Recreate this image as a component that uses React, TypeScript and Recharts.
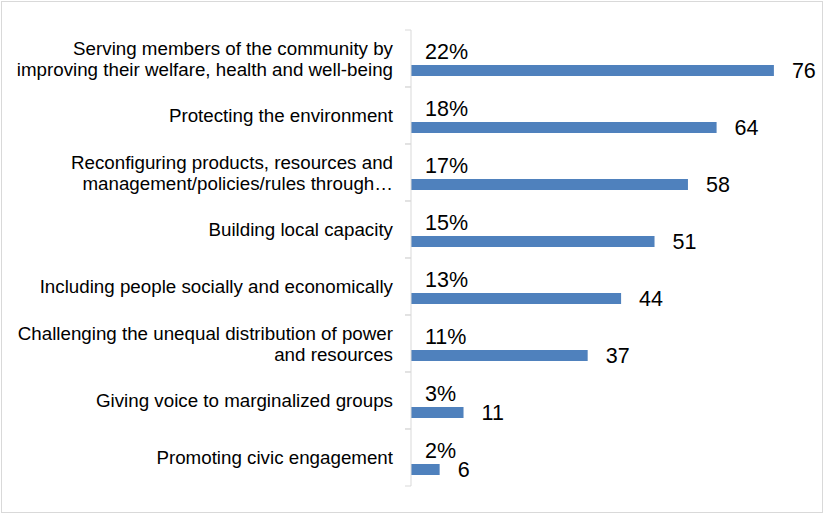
import React from "react";
import { BarChart, Bar, XAxis, YAxis, LabelList } from "recharts";

const categories = [
  "Serving members of the community by\nimproving their welfare, health and well-being",
  "Protecting the environment",
  "Reconfiguring products, resources and\nmanagement/policies/rules through…",
  "Building local capacity",
  "Including people socially and economically",
  "Challenging the unequal distribution of power\nand resources",
  "Giving voice to marginalized groups",
  "Promoting civic engagement",
];
const counts = [76, 64, 58, 51, 44, 37, 11, 6];
const percents = [22, 18, 17, 15, 13, 11, 3, 2];

const data = categories.map((name, i) => ({ name, count: counts[i], pct: percents[i] }));

const FONT = '"Liberation Sans", Arial, sans-serif';
const AXIS_GRAY = "#d9d9d9";
const BLUE = "#4f81bd";

function CategoryTick(props: any) {
  const { x, y, payload } = props;
  const lines = String(payload.value).split("\n");
  const lh = 21;
  const half = payload.offset ?? 28.5;
  return (
    <g>
      <line x1={x + 2} x2={x + 8} y1={y - half} y2={y - half} stroke={AXIS_GRAY} />
      <line x1={x + 2} x2={x + 8} y1={y + half} y2={y + half} stroke={AXIS_GRAY} />
      <text x={x - 10} y={y} textAnchor="end" fontSize={18.75} fontFamily={FONT} fill="#000">
        {lines.map((l, i) => (
          <tspan key={i} x={x - 10} y={y + (i - (lines.length - 1) / 2) * lh} dy="0.35em">
            {l}
          </tspan>
        ))}
      </text>
    </g>
  );
}

export default function App() {
  return (
    <div
      style={{
        position: "absolute",
        left: 0,
        top: 0,
        width: 825,
        height: 515,
        background: "#fff",
        fontFamily: FONT,
      }}
    >
      <div
        style={{
          position: "absolute",
          left: 1,
          top: 1,
          width: 822,
          height: 512,
          boxSizing: "border-box",
          border: "1px solid #d9d9d9",
        }}
      />
      <BarChart
        width={825}
        height={515}
        data={data}
        layout="vertical"
        barGap={4}
        margin={{ top: 30, right: 32, left: 0, bottom: 29 }}
        style={{ position: "absolute", left: 0, top: 0 }}
      >
        <XAxis type="number" domain={[0, 80]} hide />
        <YAxis
          type="category"
          dataKey="name"
          width={411}
          tickLine={false}
          tickSize={6}
          tickMargin={2}
          axisLine={{ stroke: AXIS_GRAY }}
          tick={<CategoryTick />}
          interval={0}
        />
        <Bar dataKey="pct" barSize={19} fill="transparent" isAnimationActive={false}>
          <LabelList
            dataKey="pct"
            position="insideLeft"
            offset={14}
            formatter={(v: any) => `${v}%`}
            fontSize={21.5}
            fontFamily={FONT}
            fill="#000"
          />
        </Bar>
        <Bar dataKey="count" barSize={11} fill={BLUE} isAnimationActive={false}>
          <LabelList
            dataKey="count"
            position="right"
            offset={18}
            fontSize={21.5}
            fontFamily={FONT}
            fill="#000"
          />
        </Bar>
      </BarChart>
    </div>
  );
}
